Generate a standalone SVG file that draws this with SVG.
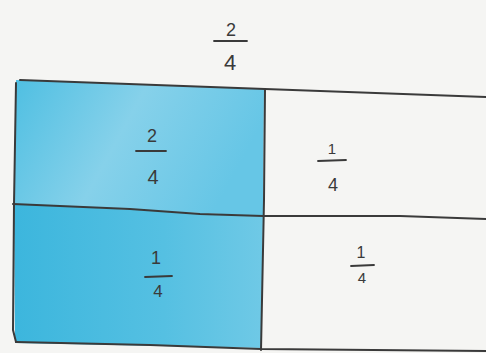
<svg xmlns="http://www.w3.org/2000/svg" width="486" height="353" viewBox="0 0 486 353">
<style>
.ln{fill:none;stroke:#3a3a3a;stroke-width:2;stroke-linecap:round;stroke-linejoin:round}
.bar{fill:none;stroke:#3a3a3a;stroke-width:1.8;stroke-linecap:round}
.t{font-family:"Liberation Sans",Arial,sans-serif;fill:#3a3a3a;text-anchor:middle}
</style>
<defs>
<linearGradient id="gTop" x1="0" y1="0" x2="1" y2="0.3">
<stop offset="0" stop-color="#4fbfe2"/>
<stop offset="0.5" stop-color="#86d1ea"/>
<stop offset="1" stop-color="#66c6e6"/>
</linearGradient>
<linearGradient id="gBot" x1="0" y1="0" x2="1" y2="0">
<stop offset="0" stop-color="#3cb6dd"/>
<stop offset="0.6" stop-color="#55c0e2"/>
<stop offset="1" stop-color="#6fc9e6"/>
</linearGradient>
</defs>
<rect width="486" height="353" fill="#f5f5f3"/>
<g id="cell-top-left">
<path d="M16,80 L264,89 L263,216 L14,204 Z" fill="url(#gTop)"/>
<text class="t" x="152" y="142" font-size="18">2</text>
<line class="bar" x1="136" y1="151" x2="166" y2="151"/>
<text class="t" x="153" y="184" font-size="20">4</text>
</g>
<g id="cell-bottom-left">
<path d="M14,204 L263,216 L261,348 L15,343 Z" fill="url(#gBot)"/>
<text class="t" x="156" y="264" font-size="18">1</text>
<line class="bar" x1="145" y1="277" x2="172" y2="276"/>
<text class="t" x="158" y="297" font-size="17">4</text>
</g>
<g id="cell-top-right">
<text class="t" x="332" y="154" font-size="15">1</text>
<line class="bar" x1="318" y1="161" x2="346" y2="160"/>
<text class="t" x="333" y="191" font-size="18">4</text>
</g>
<g id="cell-bottom-right">
<text class="t" x="361" y="258" font-size="16">1</text>
<line class="bar" x1="351" y1="266" x2="374" y2="265"/>
<text class="t" x="362" y="283" font-size="15">4</text>
</g>
<g id="label-top">
<text class="t" x="231" y="36" font-size="18">2</text>
<line class="bar" x1="214" y1="41" x2="247" y2="41"/>
<text class="t" x="230" y="70" font-size="22">4</text>
</g>
<g id="lines">
<path class="ln" d="M20,80 L265,89 L486,97"/>
<path class="ln" d="M16,83 L14,204 L13,330 L16,342"/>
<path class="ln" d="M13,204 L130,209 L200,214 L263,216 L400,216 L486,219"/>
<path class="ln" d="M265,89 L264,200 L262,300 L261,350"/>
<path class="ln" d="M16,342 L150,345 L261,349 L486,351"/>
</g>
</svg>
